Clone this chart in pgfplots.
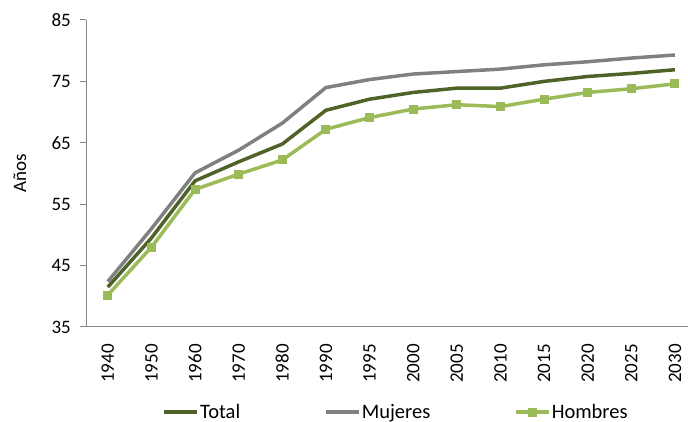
\documentclass[border=0pt]{standalone}
\usepackage{pgfplots}
\pgfplotsset{compat=1.18}
\usepackage{fontspec}
\setmainfont{Carlito}
\definecolor{cTotal}{HTML}{4F6228}
\definecolor{cMuj}{HTML}{808080}
\definecolor{cHom}{HTML}{9BBB59}
\definecolor{cAxis}{HTML}{868686}
\begin{document}
\begin{tikzpicture}
\useasboundingbox (0,0) rectangle (688pt,422pt);
\begin{axis}[
  at={(86pt,95pt)}, anchor=south west,
  scale only axis, width=602pt, height=307pt,
  font=\fontsize{19}{22}\selectfont,
  /pgf/number format/assume math mode=true,
  axis lines*=left,
  axis line style={cAxis, line width=1pt},
  xmin=-0.5, xmax=13.3, ymin=35, ymax=85,
  ytick={35,45,55,65,75,85},
  xtick={0,...,13},
  xticklabels={1940,1950,1960,1970,1980,1990,1995,2000,2005,2010,2015,2020,2025,2030},
  x tick style={draw=none},
  extra x ticks={-0.5,9.5}, extra x tick labels={},
  extra x tick style={tick style={draw=cAxis, line width=1pt}, major tick length=6pt},
  y tick style={draw=cAxis, line width=1pt},
  tick align=outside, major tick length=6pt,
  xticklabel style={rotate=90, anchor=east, inner sep=0pt},
  xticklabel shift=11pt,
  yticklabel style={anchor=east, inner sep=0pt},
  yticklabel shift=9pt,
  ylabel={Años},
  ylabel style={at={(axis description cs:-0.11,0.5)}, anchor=center, rotate=0},
  legend columns=3,
  legend style={draw=none, fill=none, at={(axis description cs:0.127,-0.277)}, anchor=west,
    font=\fontsize{20.5}{24}\selectfont,
    inner sep=0pt, nodes={inner sep=1pt, anchor=west},
    /tikz/every even column/.append style={column sep=83pt}},
  legend image code/.code={\draw[mark repeat=2,mark phase=2,#1] plot coordinates {(0pt,0pt)(16.5pt,0pt)(33pt,0pt)};},
]
\addplot[cTotal, line width=3.5pt, line join=round] coordinates {
(0,41.5)(1,49.5)(2,58.8)(3,61.9)(4,64.8)(5,70.3)(6,72.1)(7,73.2)(8,73.9)(9,73.9)(10,75.0)(11,75.8)(12,76.3)(13,76.9)};
\addlegendentry{Total}
\addplot[cMuj, line width=3.5pt, line join=round] coordinates {
(0,42.4)(1,51.0)(2,60.1)(3,63.8)(4,68.2)(5,74.0)(6,75.3)(7,76.2)(8,76.6)(9,77.0)(10,77.7)(11,78.2)(12,78.8)(13,79.3)};
\addlegendentry{Mujeres}
\addplot[cHom, line width=3.5pt, line join=round, mark=square*, mark size=4pt, mark options={line width=0pt}] coordinates {
(0,40.2)(1,48.0)(2,57.4)(3,59.9)(4,62.2)(5,67.2)(6,69.1)(7,70.5)(8,71.2)(9,70.9)(10,72.1)(11,73.2)(12,73.8)(13,74.6)};
\addlegendentry{Hombres}
\end{axis}
\end{tikzpicture}
\end{document}
